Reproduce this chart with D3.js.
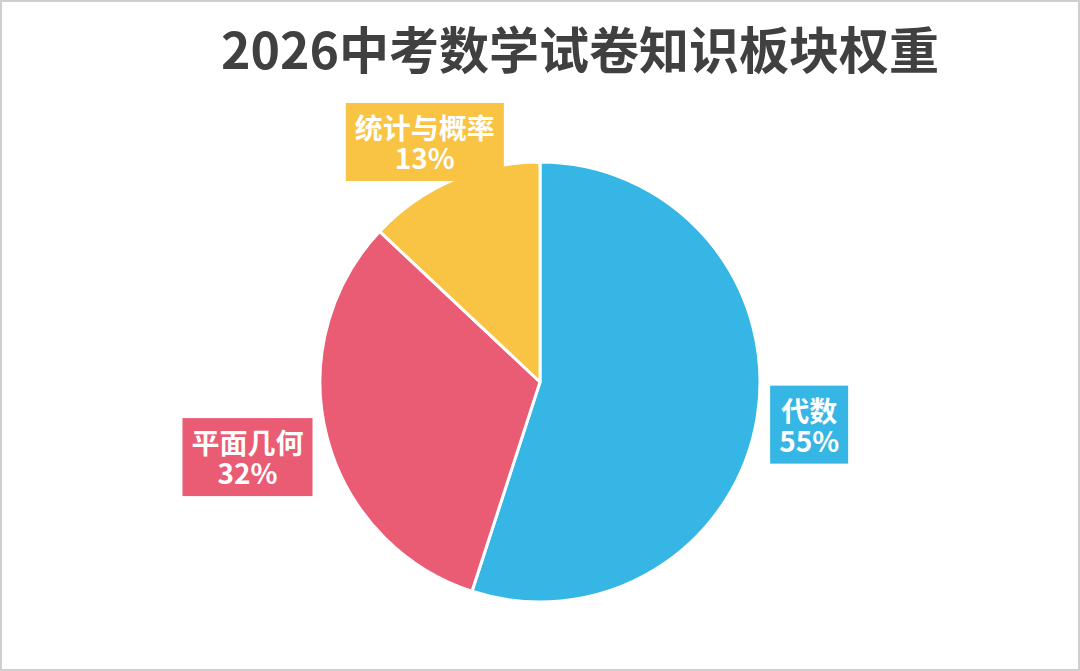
<!DOCTYPE html>
<html>
<head>
<meta charset="utf-8">
<script src="https://cdn.jsdelivr.net/npm/d3@7"></script>
<style>
  html, body { margin: 0; padding: 0; background: #fff; }
  svg { display: block; font-family: "Noto Sans CJK SC", "Noto Sans", sans-serif; }
</style>
</head>
<body>
<div id="piechart"></div>
<script>
const title = "2026中考数学试卷知识板块权重";
const categories = ["代数", "平面几何", "统计与概率"];
const values = [55, 32, 13];
const colors = ["#35B6E4", "#E95C73", "#F9C343"];

const width = 1080, height = 671;
const cx = 540, cy = 382, radius = 220;
const labelFont = 28, lineGap = 30, padX = 9, boxH = 78;
const plotTop = 103; // labels can't go above this

const data = categories.map((c, i) => ({ name: c, value: values[i], color: colors[i] }));

const svg = d3.select("#piechart")
  .append("svg")
  .attr("width", width)
  .attr("height", height);

// outer frame
svg.append("rect")
  .attr("x", 1).attr("y", 1)
  .attr("width", width - 2).attr("height", height - 2)
  .attr("fill", "#fff")
  .attr("stroke", "#cfcfcf")
  .attr("stroke-width", 2);

svg.append("text")
  .attr("x", 580)
  .attr("y", 47)
  .attr("text-anchor", "middle")
  .attr("dominant-baseline", "central")
  .style("font-size", "50px")
  .style("font-weight", "bold")
  .attr("fill", "#404040")
  .text(title);

const g = svg.append("g").attr("transform", `translate(${cx}, ${cy})`);

const pie = d3.pie().sort(null).value(d => d.value);
const arc = d3.arc().innerRadius(0).outerRadius(radius);
const arcs = pie(data);

g.selectAll("path.slice")
  .data(arcs)
  .enter()
  .append("path")
  .attr("class", "slice")
  .attr("d", arc)
  .attr("fill", d => d.data.color)
  .attr("stroke", "#fff")
  .attr("stroke-width", 3)
  .attr("stroke-linejoin", "round");

// labels: box pushed outward along mid angle until it clears the pie
const labels = g.selectAll("g.label")
  .data(arcs)
  .enter()
  .append("g")
  .attr("class", "label");

labels.each(function(d) {
  const sel = d3.select(this);
  const txt = sel.append("text")
    .attr("text-anchor", "middle")
    .attr("fill", "#fff")
    .style("font-size", labelFont + "px")
    .style("font-weight", "bold");
  const s1 = txt.append("tspan").attr("dominant-baseline", "central").text(d.data.name);
  const s2 = txt.append("tspan").attr("dominant-baseline", "central").text(d.data.value + "%");

  const w = Math.max(s1.node().getComputedTextLength(), s2.node().getComputedTextLength()) + padX * 2;
  const hw = w / 2, hh = boxH / 2;
  const mid = (d.startAngle + d.endAngle) / 2;
  const dx = Math.sin(mid), dy = -Math.cos(mid);
  const clear = radius + 10;

  let t = radius * 0.5, x = 0, y = 0;
  for (; t < 600; t += 0.5) {
    x = dx * t; y = dy * t;
    // nearest point of box to center
    const nx = Math.max(x - hw, Math.min(0, x + hw));
    const ny = Math.max(y - hh, Math.min(0, y + hh));
    if (Math.hypot(nx, ny) >= clear) break;
  }
  if (cy + y - hh < plotTop) y = plotTop - cy + hh;

  sel.insert("rect", "text")
    .attr("x", x - hw).attr("y", y - hh)
    .attr("width", w).attr("height", boxH)
    .attr("fill", d.data.color);
  s1.attr("x", x).attr("y", y - lineGap / 2);
  s2.attr("x", x).attr("y", y + lineGap / 2);
});
</script>
</body>
</html>
